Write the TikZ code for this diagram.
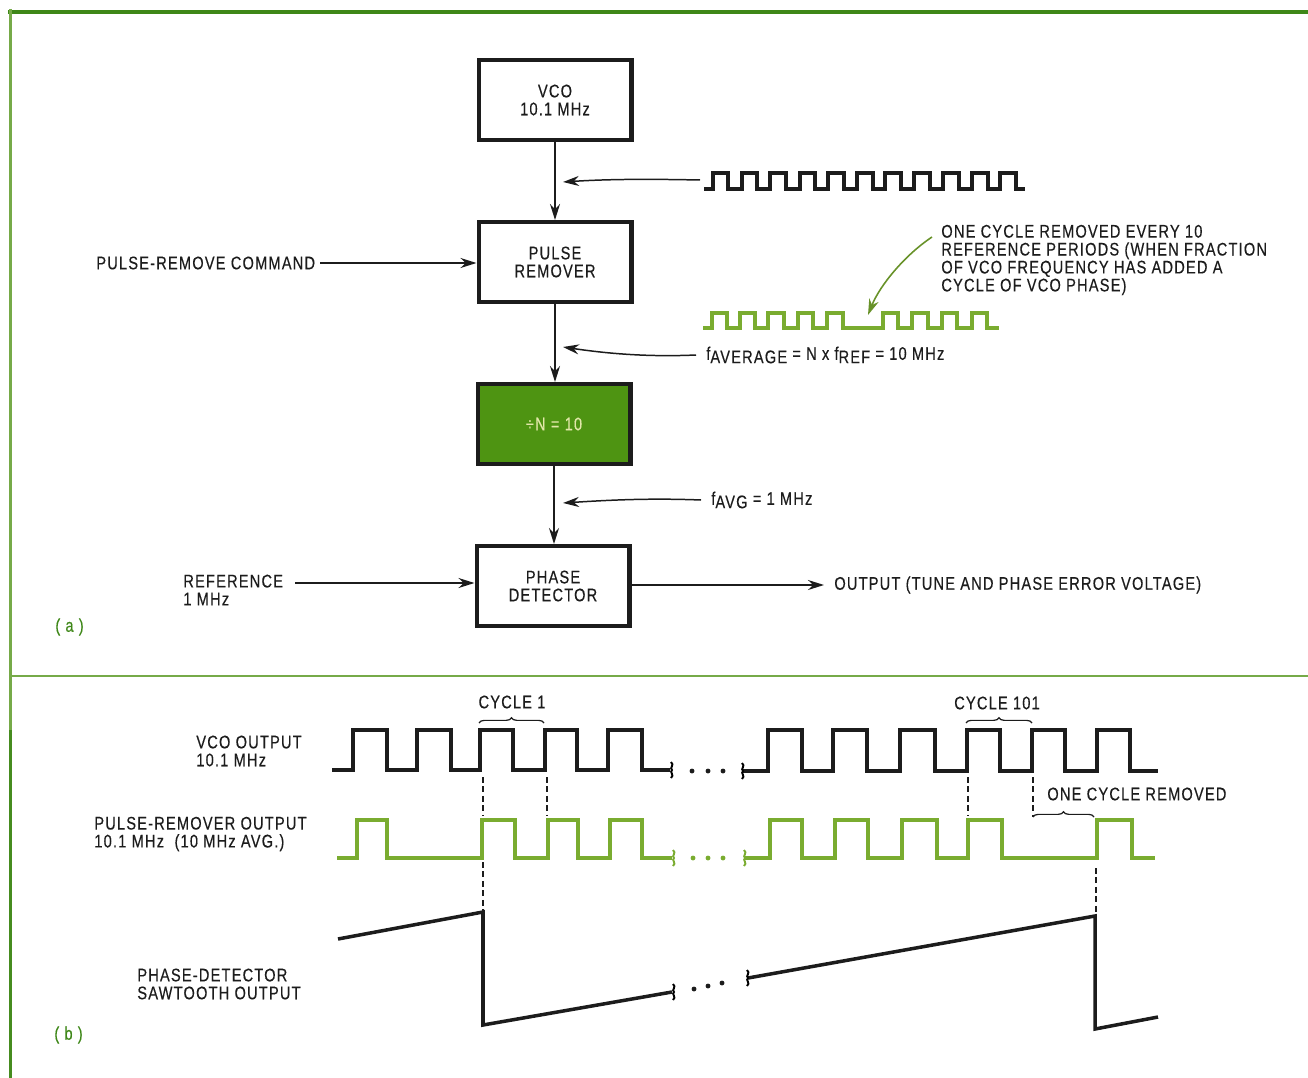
\documentclass[tikz,border=0pt]{standalone}
\usepackage{fontspec}
\setmainfont{Liberation Sans}[FakeStretch=0.8,LetterSpace=6.5,FakeBold=0.35]
\usetikzlibrary{positioning,arrows.meta,decorations.pathreplacing}
\definecolor{FrameGreen}{RGB}{62,135,24}
\definecolor{RuleGreen}{RGB}{118,170,72}
\definecolor{WaveGreen}{RGB}{122,172,48}
\definecolor{BoxGreen}{RGB}{78,148,18}
\definecolor{PaleText}{RGB}{226,232,170}
\definecolor{InkBlack}{RGB}{28,28,28}
\newcommand{\subtxt}[1]{\raisebox{-0.35ex}{#1}}
\newcommand{\pulsetrain}[3]{\foreach \r/\f in {#3} { -- (\r,#1) -- (\r,#2) -- (\f,#2) -- (\f,#1) }}
\tikzset{
  lbl/.style={inner sep=0pt,align=left,anchor=west,text=InkBlack,font=\fontsize{10.4}{10.2}\selectfont},
  blockbox/.style={draw=InkBlack,fill=white,line width=2.3pt,minimum width=3.06cm,minimum height=1.6cm,
    inner sep=0pt,align=center,text=InkBlack,font=\fontsize{10.4}{10.2}\selectfont},
  flow/.style={-{Stealth[length=3.2mm,width=2mm]},line width=0.85pt,draw=InkBlack},
  wave/.style={line width=2pt,draw=InkBlack,line join=miter},
  greenwave/.style={line width=2pt,draw=WaveGreen,line join=miter},
  guide/.style={line width=0.7pt,draw=InkBlack,dash pattern=on 3.4pt off 2pt},
  curly/.style={line width=0.7pt,draw=InkBlack,decorate,decoration={brace,amplitude=3pt}},
  brk/.pic={\draw[line width=1.1pt,pic actions] (-1,-8) .. controls (3,-5) and (-3,-2) .. (0,0) .. controls (-3,2) and (3,5) .. (-1,8);},
  dotty/.style={circle,inner sep=0pt,minimum size=2.8pt,fill=InkBlack}
}
\begin{document}
\begin{tikzpicture}[x=0.02cm,y=-0.02cm,node distance=1.56cm]
  \useasboundingbox (0,0) rectangle (1308,1078);
  % frame
  \draw[line width=2.8pt,draw=FrameGreen] (8,12) -- (1308,12);
  \draw[line width=2.2pt,draw=RuleGreen] (10.5,9) -- (10.5,730);
  \draw[line width=2.2pt,draw=FrameGreen!85!RuleGreen] (10.5,730) -- (10.5,1078);
  \draw[line width=1.1pt,draw=RuleGreen] (11,676) -- (1308,676);

  % (a) blocks
  \node[blockbox] (vco) at (555,100) {VCO\\10.1 MHz};
  \node[blockbox,below=of vco] (remover) {PULSE\\REMOVER};
  \node[blockbox,below=of remover,xshift=-0.02cm,fill=BoxGreen,text=PaleText] (divider) {÷N = 10};
  \node[blockbox,below=of divider,xshift=-0.02cm] (phasedet) {PHASE\\DETECTOR};

  \node[lbl] (command) at (96,263) {PULSE-REMOVE COMMAND};
  \node[lbl] (reference) at (183,590) {REFERENCE\\1 MHz};
  \node[lbl] (output) at (834,585) {OUTPUT (TUNE AND PHASE ERROR VOLTAGE)};
  \node[lbl] (removed) at (941,260) {ONE CYCLE REMOVED EVERY 10\\REFERENCE PERIODS (WHEN FRACTION\\OF VCO FREQUENCY HAS ADDED A\\CYCLE OF VCO PHASE)};
  \node[lbl] (faverage) at (706,355) {f\subtxt{AVERAGE} = N x f\subtxt{REF} = 10 MHz};
  \node[lbl] (favg) at (711,500) {f\subtxt{AVG} = 1 MHz};
  \node[lbl,text=FrameGreen] (parta) at (55,627) {( a )};
  \node[lbl,text=FrameGreen] (partb) at (54,1035) {( b )};

  \draw[flow] (vco) -- (remover);
  \draw[flow] (remover) -- (divider.north -| remover);
  \draw[flow] (divider) -- (phasedet.north -| divider);
  \draw[flow] ([xshift=0.1cm]command.east) -- (remover.west |- command);
  \draw[flow] (reference.east |- 0,583) ++(12,0) coordinate (refstart) -- (phasedet.west |- refstart);
  \draw[flow] (phasedet.east |- output) -- ([xshift=-0.2cm]output.west);

  % pointers onto the signal lines
  \coordinate (vcowave) at (700,180);
  \coordinate (vcotip) at (563,182);
  \coordinate (avgtip) at (563,347);
  \coordinate (dvtip) at (563,503);
  \coordinate (gaptip) at (868,315);
  \coordinate (notestart) at (932,237);
  \draw[flow] (vcowave) .. controls (650,179) and (610,179) .. (vcotip);
  \draw[flow] ([xshift=-0.2cm]faverage.west) .. controls (650,357) and (610,354) .. (avgtip);
  \draw[flow] ([xshift=-0.2cm]favg.west) .. controls (650,498) and (610,500) .. (dvtip);
  \draw[-{Stealth[length=3.2mm,width=2mm]},line width=0.9pt,draw=WaveGreen!85!black] (notestart) .. controls (905,255) and (880,285) .. (gaptip);

  % small waveforms
  \draw[wave,line width=1.8pt] (704,189) \pulsetrain{189}{173}{713/728,742/757,770/786,800/815,828/844,857/873,885/901,914/930,943/959,972/988,1000/1016} -- (1025,189);
  \draw[greenwave,line width=1.8pt] (703,328) \pulsetrain{328}{313}{712/727,740/755,768/784,798/813,827/843,883/898,912/928,942/957,972/987} -- (999,328);

  % (b) timing
  \node[lbl] (vcolbl) at (196,751) {VCO OUTPUT\\10.1 MHz};
  \node[lbl] (removerlbl) at (94,834) {PULSE-REMOVER OUTPUT\\10.1 MHz\ \ (10 MHz AVG.)};
  \node[lbl] (sawlbl) at (137,984) {PHASE-DETECTOR\\SAWTOOTH OUTPUT};
  \node[lbl,anchor=center] (cycone) at (512,702) {CYCLE 1};
  \node[lbl,anchor=center] (cychundred) at (997,703) {CYCLE 101};
  \node[lbl] (onecycle) at (1047,794) {ONE CYCLE REMOVED};

  \draw[wave] (332,770) \pulsetrain{770}{730}{353/387,417/451,480/513,545/577,608/642} -- (670,770);
  \draw[wave] (743,771) \pulsetrain{771}{730}{768/802,833/867,900/935,967/1000,1032/1065,1097/1130} -- (1158,771);
  \draw[greenwave] (337,858) \pulsetrain{858}{820}{357/387,482/515,548/578,610/642} -- (672,858);
  \draw[greenwave] (745,858) \pulsetrain{858}{820}{770/802,835/868,902/937,968/1002,1097/1132} -- (1155,858);
  \draw[wave,line join=miter] (338,939) -- (483,912) -- (483,1025) -- (672,992);
  \draw[wave,line join=miter] (748,978) -- (1095,916) -- (1095,1029) -- (1158,1017);

  % breaks
  \path (672,770) pic {brk} (743,771) pic {brk} (674,992) pic {brk} (748,978) pic {brk};
  \path[draw=WaveGreen] (674,858) pic {brk} (745,858) pic {brk};
  \foreach \dx/\dy/\dname in {692/771/a,708/771/b,723/771/c,694/989/d,708/986/e,722/983/f}
    \node[dotty] (dot\dname) at (\dx,\dy) {};
  \foreach \dx/\dname in {693/g,708/h,723/i}
    \node[dotty,fill=WaveGreen] (dot\dname) at (\dx,858) {};

  % guides and braces
  \draw[guide] (483,777) -- (483,815);
  \draw[guide] (547,777) -- (547,815);
  \draw[guide] (968,777) -- (968,815);
  \draw[guide] (1033,777) -- (1033,817);
  \draw[guide] (483,862) -- (483,912);
  \draw[guide] (1096,868) -- (1096,916);
  \draw[curly] (479,723) -- (544,723);
  \draw[curly] (966,723) -- (1032,723);
  \draw[curly] (1033,817) -- (1094,817);
\end{tikzpicture}
\end{document}
